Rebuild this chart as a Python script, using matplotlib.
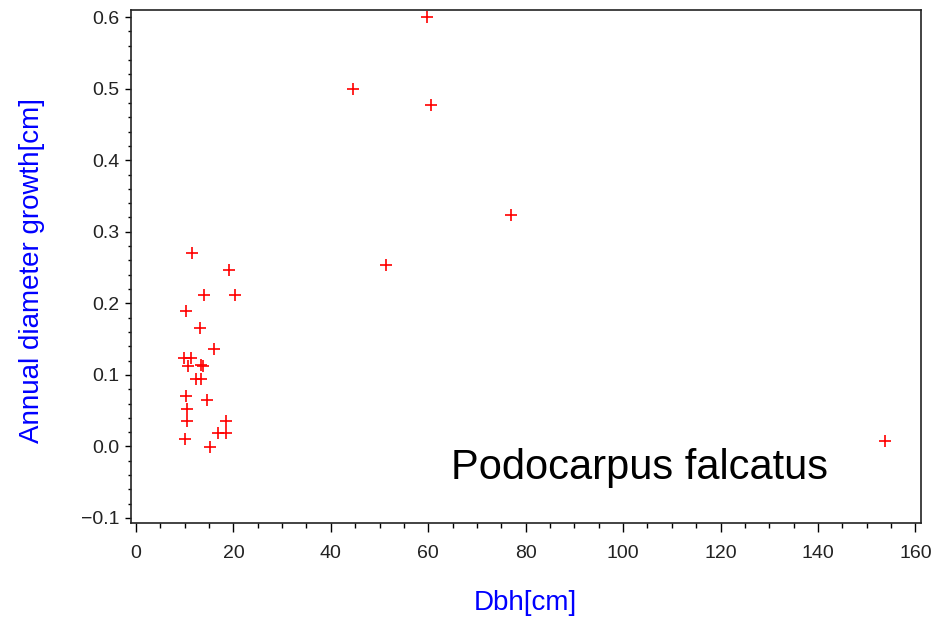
import numpy as np
import matplotlib.pyplot as plt
from matplotlib.ticker import MultipleLocator

dbh = [59.8, 44.6, 60.5, 76.9, 51.4, 153.8,
       11.5, 19.1, 13.9, 20.3, 10.3, 13.2, 16.1, 9.8, 11.3, 10.7, 13.3, 13.8,
       12.4, 13.4, 10.2, 14.6, 10.5, 10.5, 18.4, 16.9, 18.4, 10.0, 15.2]
growth = [0.600, 0.500, 0.477, 0.324, 0.254, 0.007,
          0.270, 0.247, 0.212, 0.212, 0.189, 0.165, 0.136, 0.124, 0.124, 0.112, 0.114, 0.112,
          0.094, 0.094, 0.071, 0.065, 0.052, 0.035, 0.035, 0.019, 0.019, 0.011, -0.001]

species = "Podocarpus falcatus"

plt.rcParams['font.family'] = ['Liberation Sans', 'DejaVu Sans']

fig = plt.figure(figsize=(9.32, 6.18), dpi=100)
ax = fig.add_axes([131 / 932, 1 - 523 / 618, (920.7 - 131) / 932, (523 - 10) / 618])

ax.plot(dbh, growth, "+", color="red", markersize=9, markeredgewidth=1.2)

ax.set_xlim(-1.03, 161.1)
ax.set_ylim(-0.107, 0.610)
ax.xaxis.set_major_locator(MultipleLocator(20))
ax.xaxis.set_minor_locator(MultipleLocator(5))
ax.yaxis.set_major_locator(MultipleLocator(0.1))
ax.yaxis.set_minor_locator(MultipleLocator(0.02))
ax.yaxis.set_major_formatter(plt.FuncFormatter(lambda v, p: f"{v:.1f}".replace("-", "\u2212")))

ax.tick_params(axis="x", which="major", length=6.5, width=1, pad=9)
ax.tick_params(axis="x", which="minor", length=3.6, width=1)
ax.tick_params(axis="y", which="major", length=4.5, width=1, pad=4)
ax.tick_params(axis="y", which="minor", length=2.5, width=1)
for lab in ax.get_xticklabels() + ax.get_yticklabels():
    lab.set_fontsize(14)
    lab.set_color("#222222")

for s in ax.spines.values():
    s.set_linewidth(1.2)
    s.set_color("#222222")

ax.set_xlabel("Dbh[cm]", color="blue", fontsize=20, va="center")
ax.xaxis.set_label_coords(0.5, -0.156)
ax.set_ylabel("Annual diameter growth[cm]", color="blue", fontsize=20, va="center")
ax.yaxis.set_label_coords(-0.1254, 0.493)

ax.text(0.405, 0.0858, species, transform=ax.transAxes, fontsize=30,
        ha="left", va="baseline")

fig.savefig("out.png", dpi=100)
